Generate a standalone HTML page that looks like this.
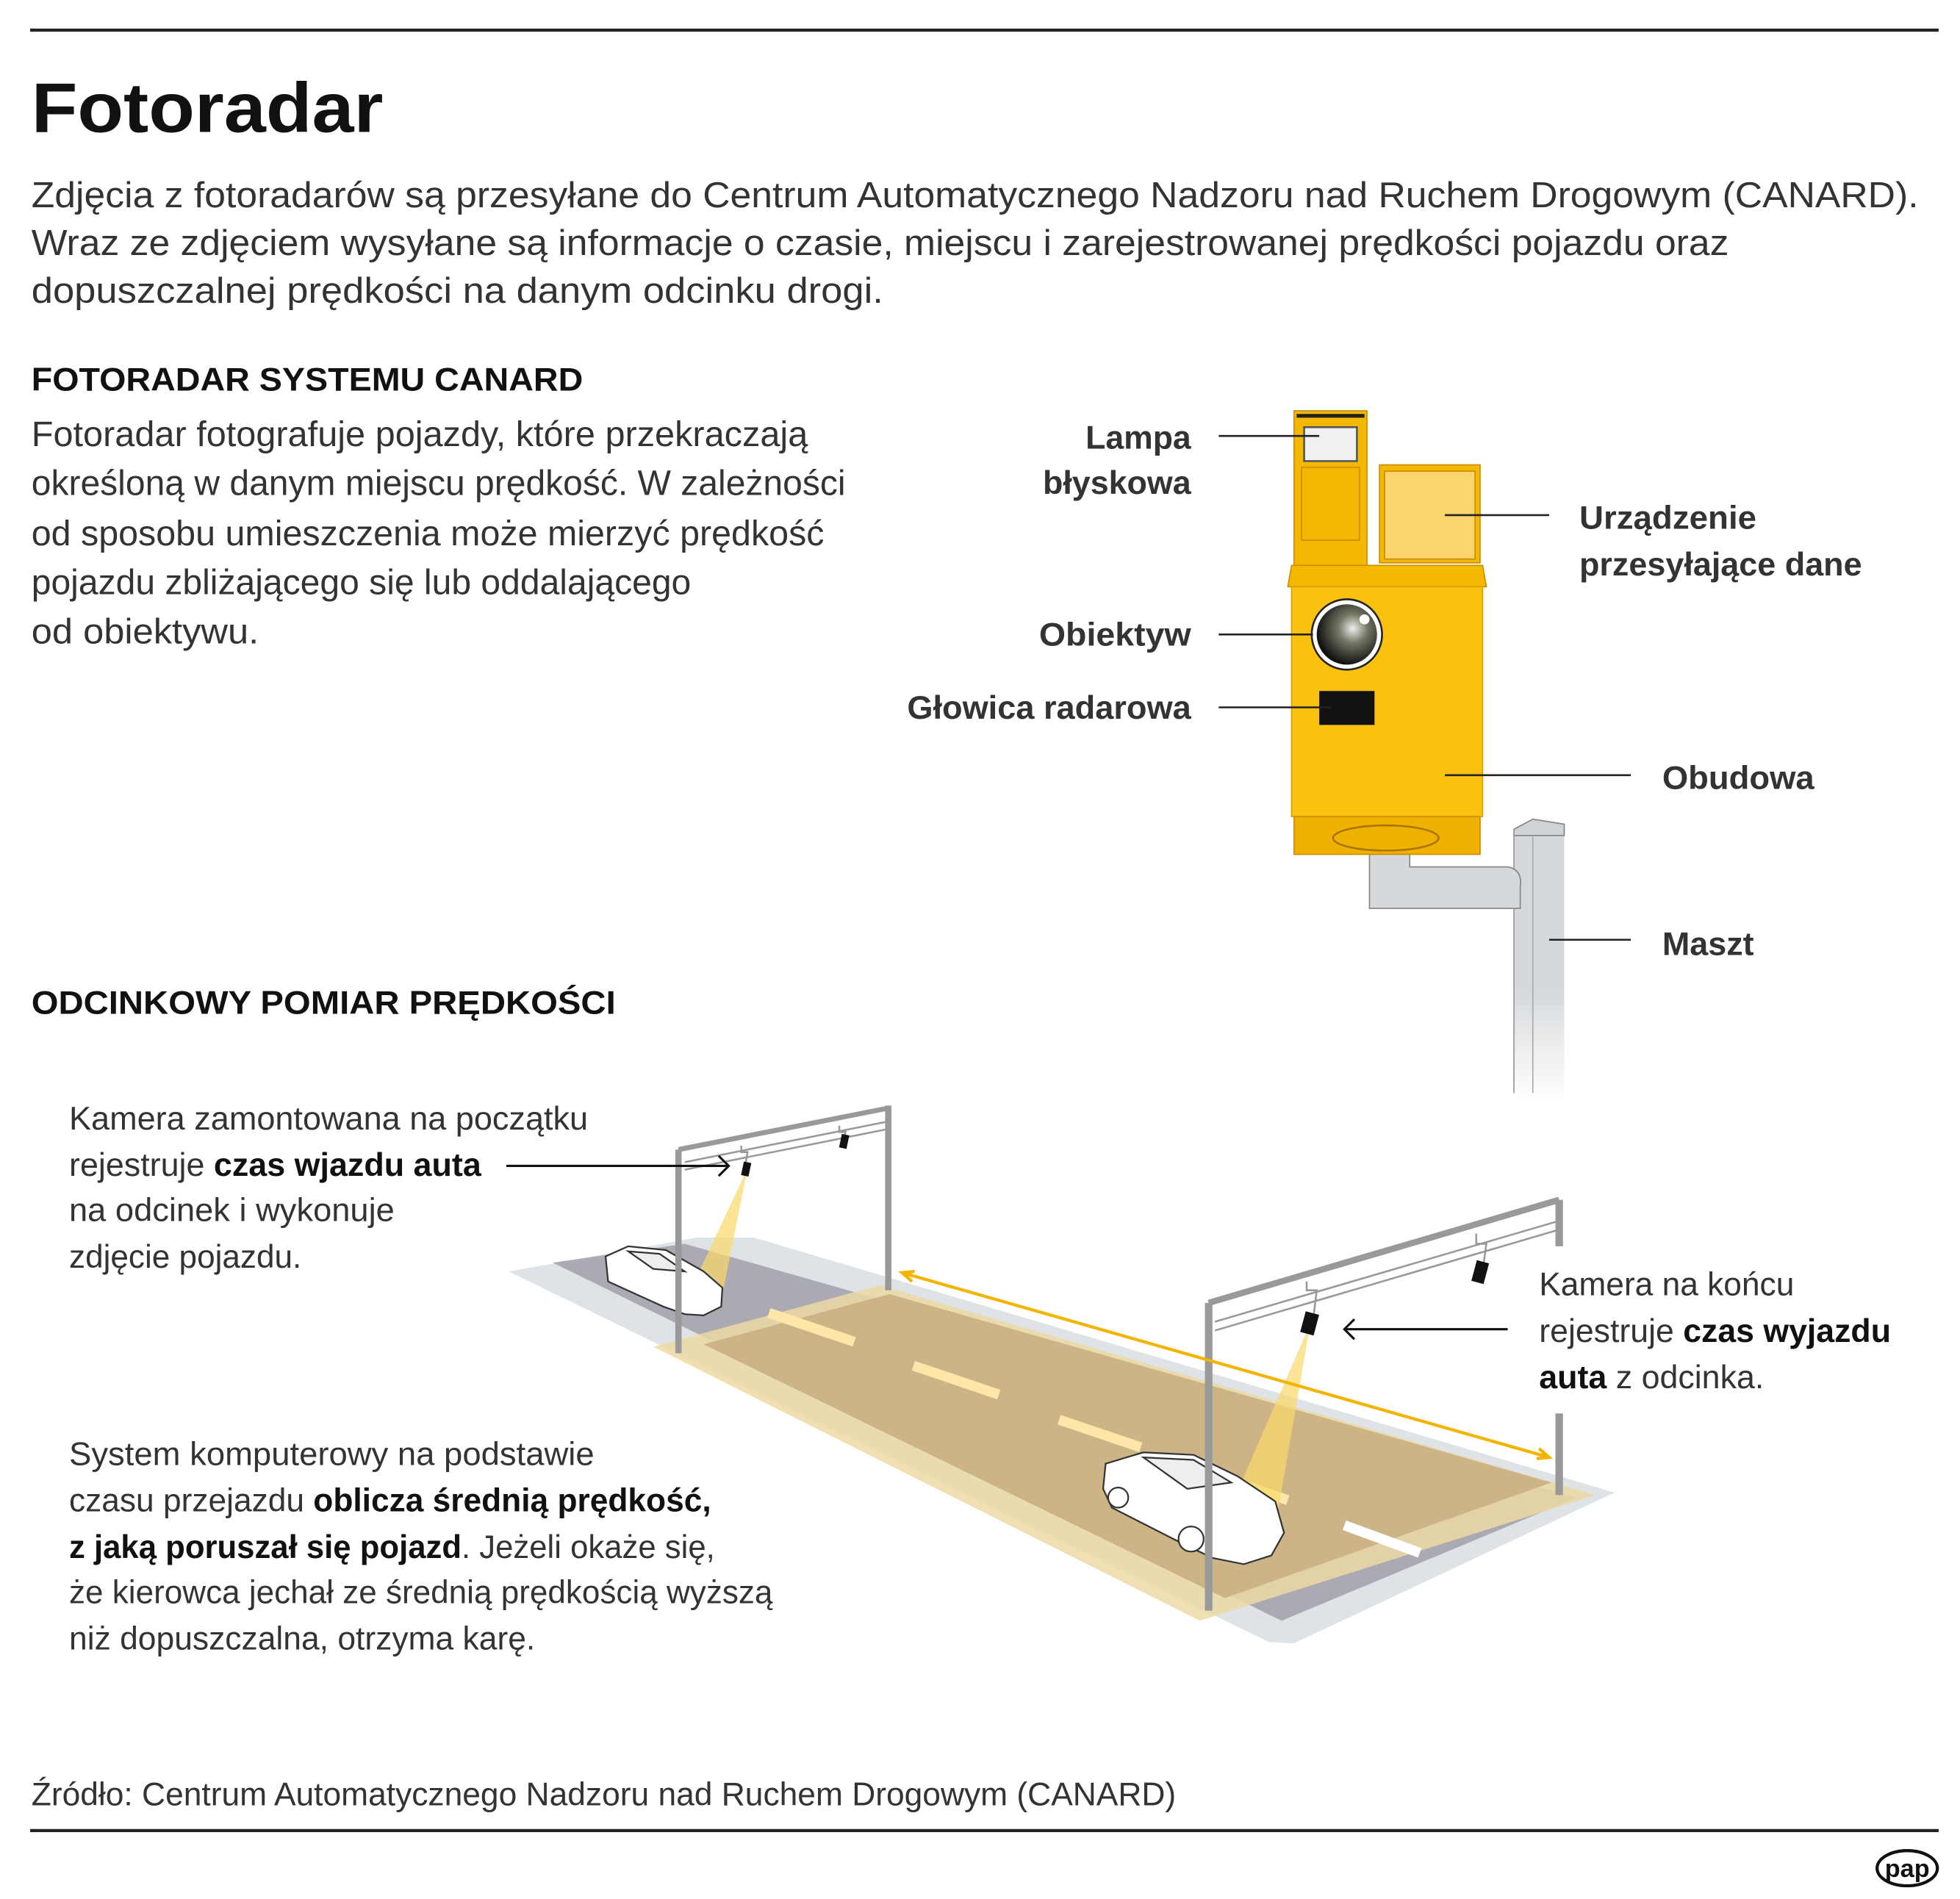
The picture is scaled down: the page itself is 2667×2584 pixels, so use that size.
<!DOCTYPE html>
<html><head><meta charset="utf-8"><style>
html,body{margin:0;padding:0;background:#fff}
svg{display:block}
text{font-family:"Liberation Sans","DejaVu Sans",sans-serif;fill:#333}
.b{font-weight:bold;fill:#111}
</style></head><body>
<svg width="2667" height="2584" viewBox="0 0 1560 1511.5" preserveAspectRatio="none" xmlns="http://www.w3.org/2000/svg">
<defs>
<linearGradient id="pole" x1="0" y1="0" x2="0" y2="1"><stop offset="0.6" stop-color="#d6d9dc"/><stop offset="1" stop-color="#fff"/></linearGradient>
<radialGradient id="lens" cx="0.6" cy="0.4" r="0.6"><stop offset="0" stop-color="#eee"/><stop offset="0.4" stop-color="#776"/><stop offset="1" stop-color="#111"/></radialGradient>
</defs>
<line x1="24" y1="24" x2="1543" y2="24" stroke="#222" stroke-width="2.5"/>
<text x="25" y="105" font-size="56" class="b" textLength="280" lengthAdjust="spacingAndGlyphs">Fotoradar</text>
<g font-size="29">
<text x="25" y="165" textLength="1502" lengthAdjust="spacingAndGlyphs">Zdjęcia z fotoradarów są przesyłane do Centrum Automatycznego Nadzoru nad Ruchem Drogowym (CANARD).</text>
<text x="25" y="203" textLength="1351" lengthAdjust="spacingAndGlyphs">Wraz ze zdjęciem wysyłane są informacje o czasie, miejscu i zarejestrowanej prędkości pojazdu oraz</text>
<text x="25" y="241" textLength="678" lengthAdjust="spacingAndGlyphs">dopuszczalnej prędkości na danym odcinku drogi.</text>
</g>
<text x="25" y="311" font-size="26" class="b" textLength="439" lengthAdjust="spacingAndGlyphs">FOTORADAR SYSTEMU CANARD</text>
<g font-size="28">
<text x="25" y="355" textLength="618" lengthAdjust="spacingAndGlyphs">Fotoradar fotografuje pojazdy, które przekraczają</text>
<text x="25" y="394" textLength="648" lengthAdjust="spacingAndGlyphs">określoną w danym miejscu prędkość. W zależności</text>
<text x="25" y="434" textLength="631" lengthAdjust="spacingAndGlyphs">od sposobu umieszczenia może mierzyć prędkość</text>
<text x="25" y="473" textLength="525" lengthAdjust="spacingAndGlyphs">pojazdu zbliżającego się lub oddalającego</text>
<text x="25" y="512" textLength="181" lengthAdjust="spacingAndGlyphs">od obiektywu.</text>
</g>
<!-- mast -->
<rect x="1205" y="660" width="40" height="215" fill="url(#pole)"/>
<polygon points="1205,660 1220,652 1245,656 1245,665 1205,665" fill="#cfd3d6" stroke="#888" stroke-width="1"/>
<line x1="1205" y1="660" x2="1205" y2="870" stroke="#999" stroke-width="1"/>
<line x1="1220" y1="665" x2="1220" y2="870" stroke="#aaa" stroke-width="1"/>
<path d="M1090,668 H1122 V690 H1200 Q1212,692 1210,706 V723 H1090 Z" fill="#d6d9dc" stroke="#888" stroke-width="1"/>
<!-- camera -->
<rect x="1030" y="327" width="58" height="125" fill="#f5b800" stroke="#c98f00" stroke-width="1"/>
<line x1="1032" y1="331" x2="1086" y2="331" stroke="#222" stroke-width="3"/>
<rect x="1038" y="340" width="42" height="27" fill="#eef0f2" stroke="#555" stroke-width="1.5"/>
<rect x="1036" y="372" width="46" height="58" fill="none" stroke="#c98f00" stroke-width="1"/>
<rect x="1098" y="370" width="80" height="78" fill="#f5b800" stroke="#c98f00"/>
<rect x="1102" y="375" width="72" height="70" fill="#fcd46e" stroke="#c98f00"/>
<polygon points="1028,450 1180,450 1183,467 1025,467" fill="#f5b800" stroke="#c98f00"/>
<rect x="1028" y="467" width="152" height="183" fill="#fbc10f" stroke="#d9a000"/>
<rect x="1030" y="650" width="148" height="30" fill="#f0b000" stroke="#c98f00"/>
<ellipse cx="1103" cy="667" rx="42" ry="10" fill="none" stroke="#a87600" stroke-width="1.5"/>
<circle cx="1072" cy="505" r="28" fill="#fff" stroke="#222" stroke-width="1.5"/>
<circle cx="1072" cy="505" r="24" fill="url(#lens)"/>
<circle cx="1086" cy="493" r="4" fill="#fff"/>
<rect x="1050" y="550" width="44" height="27" fill="#111"/>
<g stroke="#222" stroke-width="1.5">
<line x1="970" y1="347" x2="1050" y2="347"/>
<line x1="1150" y1="410" x2="1233" y2="410"/>
<line x1="970" y1="505" x2="1045" y2="505"/>
<line x1="970" y1="563" x2="1060" y2="563"/>
<line x1="1150" y1="617" x2="1298" y2="617"/>
<line x1="1233" y1="748" x2="1298" y2="748"/>
</g>
<g font-size="26" class="b">
<text x="864" y="357" textLength="84" lengthAdjust="spacingAndGlyphs">Lampa</text>
<text x="830" y="393" textLength="118" lengthAdjust="spacingAndGlyphs">błyskowa</text>
<text x="827" y="514" textLength="121" lengthAdjust="spacingAndGlyphs">Obiektyw</text>
<text x="722" y="572" textLength="226" lengthAdjust="spacingAndGlyphs">Głowica radarowa</text>
<text x="1257" y="421" textLength="141" lengthAdjust="spacingAndGlyphs">Urządzenie</text>
<text x="1257" y="458" textLength="225" lengthAdjust="spacingAndGlyphs">przesyłające dane</text>
<text x="1323" y="628" textLength="121" lengthAdjust="spacingAndGlyphs">Obudowa</text>
<text x="1323" y="760" textLength="73" lengthAdjust="spacingAndGlyphs">Maszt</text>
</g>
<text x="25" y="807" font-size="26" class="b" textLength="465" lengthAdjust="spacingAndGlyphs">ODCINKOWY POMIAR PRĘDKOŚCI</text>
<!-- road -->
<polygon points="405,1012 555,985 600,985 1285,1188 1030,1308 1010,1307" fill="#dde3e6"/>
<polygon points="440,1005 545,990 1255,1192 1020,1290" fill="#aba9b2"/>
<polygon points="520,1072 700,1023 1270,1190 955,1290" fill="#ecd9a5" opacity="0.85"/>
<polygon points="560,1070 708,1030 1235,1180 975,1272" fill="#cdb486"/>
<g stroke="#fde6a8" stroke-width="8">
<line x1="612" y1="1045" x2="680" y2="1068"/>
<line x1="727" y1="1087" x2="795" y2="1110"/>
<line x1="843" y1="1130" x2="908" y2="1152"/>
<line x1="960" y1="1172" x2="1025" y2="1194"/>
</g>
<line x1="1070" y1="1214" x2="1130" y2="1236" stroke="#fff" stroke-width="8"/>
<!-- beams -->
<polygon points="595,930 548,1030 575,1030" fill="#fbd86a" opacity="0.7"/>
<polygon points="1043,1053 975,1210 1015,1215" fill="#fbd86a" opacity="0.7"/>
<!-- cars -->
<g fill="#fff" stroke="#333" stroke-width="1.3">
<path d="M482,1000 L500,992 L530,995 L560,1012 L575,1025 L574,1040 L560,1047 L545,1046 L528,1040 L484,1020 Z"/>
<path d="M500,996 L525,998 L545,1012 L520,1010 Z" fill="#eee"/>
<path d="M880,1165 L910,1156 L950,1158 L985,1175 L1015,1195 L1022,1220 L1012,1238 L990,1245 L965,1240 L940,1228 L885,1200 L878,1185 Z"/>
<path d="M910,1160 L950,1162 L980,1180 L945,1185 Z" fill="#eee"/>
<circle cx="948" cy="1225" r="10"/><circle cx="890" cy="1192" r="8"/>
</g>
<!-- gantries -->
<g stroke="#999" fill="none">
<line x1="540" y1="915" x2="540" y2="1077" stroke-width="5"/>
<line x1="707" y1="880" x2="707" y2="1027" stroke-width="5"/>
<line x1="540" y1="915" x2="707" y2="882" stroke-width="4"/>
<line x1="545" y1="925" x2="705" y2="893" stroke-width="1.5"/>
<line x1="545" y1="931" x2="705" y2="899" stroke-width="1.5"/>
<line x1="962" y1="1037" x2="962" y2="1282" stroke-width="6"/>
<line x1="1241" y1="955" x2="1241" y2="992" stroke-width="6"/>
<line x1="1241" y1="1125" x2="1241" y2="1190" stroke-width="6"/>
<line x1="962" y1="1037" x2="1241" y2="955" stroke-width="5"/>
<line x1="967" y1="1052" x2="1240" y2="972" stroke-width="1.5"/>
<line x1="967" y1="1059" x2="1240" y2="979" stroke-width="1.5"/>
<path d="M590,912 v5 h5 l-2,12 M668,896 v5 h5 l-2,10 M1040,1020 v7 h8 l-3,25 M1175,982 v8 h8 l-3,22" stroke-width="1.5"/>
</g>
<g fill="#111">
<rect x="591" y="925" width="6" height="11" transform="rotate(12 594 930)"/>
<rect x="669" y="903" width="6" height="11" transform="rotate(12 672 908)"/>
<rect x="1037" y="1045" width="11" height="17" transform="rotate(15 1043 1053)"/>
<rect x="1173" y="1004" width="10" height="17" transform="rotate(15 1178 1013)"/>
</g>
<!-- orange arrow -->
<g stroke="#f3b400" stroke-width="2.5" fill="none">
<line x1="718" y1="1013" x2="1233" y2="1160"/>
<polyline points="728,1012 718,1013 726,1020"/>
<polyline points="1223,1161 1233,1160 1225,1153"/>
</g>
<!-- black arrows -->
<g stroke="#111" stroke-width="1.8" fill="none">
<line x1="403" y1="928" x2="580" y2="928"/>
<polyline points="572,920 580,928 572,936"/>
<line x1="1200" y1="1058" x2="1070" y2="1058"/>
<polyline points="1078,1050 1070,1058 1078,1066"/>
</g>
<g font-size="26">
<text x="55" y="899" textLength="413" lengthAdjust="spacingAndGlyphs">Kamera zamontowana na początku</text>
<text x="55" y="936" textLength="328" lengthAdjust="spacingAndGlyphs">rejestruje <tspan class="b">czas wjazdu auta</tspan></text>
<text x="55" y="972" textLength="259" lengthAdjust="spacingAndGlyphs">na odcinek i wykonuje</text>
<text x="55" y="1009" textLength="185" lengthAdjust="spacingAndGlyphs">zdjęcie pojazdu.</text>
<text x="1225" y="1031" textLength="203" lengthAdjust="spacingAndGlyphs">Kamera na końcu</text>
<text x="1225" y="1068" textLength="280" lengthAdjust="spacingAndGlyphs">rejestruje <tspan class="b">czas wyjazdu</tspan></text>
<text x="1225" y="1105" textLength="179" lengthAdjust="spacingAndGlyphs"><tspan class="b">auta</tspan> z odcinka.</text>
<text x="55" y="1166" textLength="418" lengthAdjust="spacingAndGlyphs">System komputerowy na podstawie</text>
<text x="55" y="1203" textLength="511" lengthAdjust="spacingAndGlyphs">czasu przejazdu <tspan class="b">oblicza średnią prędkość,</tspan></text>
<text x="55" y="1240" textLength="514" lengthAdjust="spacingAndGlyphs"><tspan class="b">z jaką poruszał się pojazd</tspan>. Jeżeli okaże się,</text>
<text x="55" y="1276" textLength="560" lengthAdjust="spacingAndGlyphs">że kierowca jechał ze średnią prędkością wyższą</text>
<text x="55" y="1313" textLength="371" lengthAdjust="spacingAndGlyphs">niż dopuszczalna, otrzyma karę.</text>
<text x="25" y="1437" textLength="911" lengthAdjust="spacingAndGlyphs">Źródło: Centrum Automatycznego Nadzoru nad Ruchem Drogowym (CANARD)</text>
</g>
<line x1="24" y1="1457" x2="1543" y2="1457" stroke="#222" stroke-width="2.5"/>
<ellipse cx="1518" cy="1487" rx="24" ry="14" fill="#fff" stroke="#111" stroke-width="2.5"/>
<text x="1518" y="1494" font-size="20" class="b" text-anchor="middle">pap</text>
</svg>
</body></html>
